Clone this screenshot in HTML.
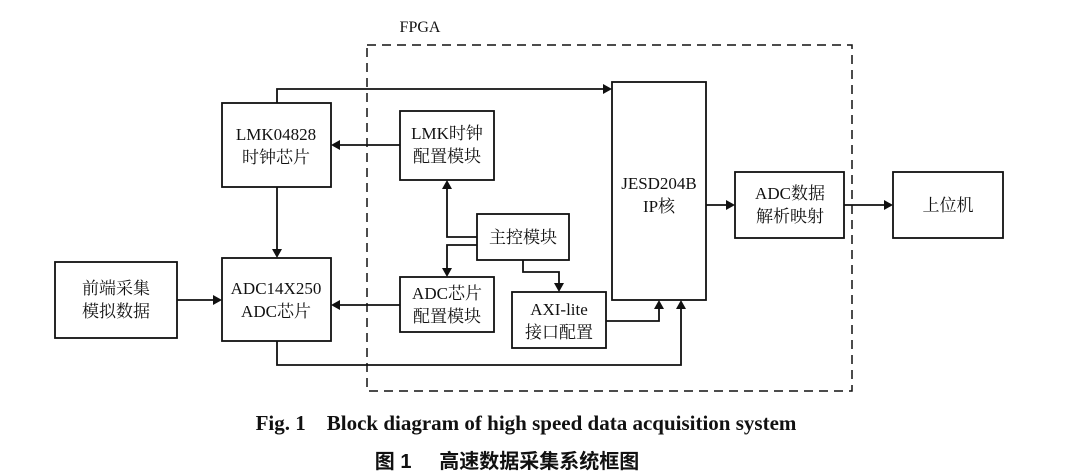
<!DOCTYPE html>
<html><head><meta charset="utf-8"><style>
html,body{margin:0;padding:0;background:#fff;}
svg{display:block;}
.t{font-family:"Liberation Serif","Noto Serif CJK SC",serif;font-size:17px;fill:#111;}
</style></head><body>
<svg width="1072" height="473" viewBox="0 0 1072 473" xmlns="http://www.w3.org/2000/svg">
<g fill="none" stroke="#111" stroke-width="1.8">
<rect x="367" y="45" width="485" height="346" stroke-dasharray="9,6" stroke-width="1.5"/>
<rect x="55" y="262" width="122" height="76"/>
<rect x="222" y="103" width="109" height="84"/>
<rect x="222" y="258" width="109" height="83"/>
<rect x="400" y="111" width="94" height="69"/>
<rect x="400" y="277" width="94" height="55"/>
<rect x="477" y="214" width="92" height="46"/>
<rect x="512" y="292" width="94" height="56"/>
<rect x="612" y="82" width="94" height="218"/>
<rect x="735" y="172" width="109" height="66"/>
<rect x="893" y="172" width="110" height="66"/>
<polyline points="277,103 277,89 604,89"/>
<line x1="400" y1="145" x2="339" y2="145"/>
<line x1="277" y1="187" x2="277" y2="250"/>
<line x1="177" y1="300" x2="214" y2="300"/>
<line x1="400" y1="305" x2="339" y2="305"/>
<polyline points="477,237 447,237 447,188"/>
<polyline points="477,245 447,245 447,269"/>
<polyline points="523,260 523,272 559,272 559,284"/>
<polyline points="606,321 659,321 659,308"/>
<polyline points="277,341 277,365 681,365 681,308"/>
<line x1="706" y1="205" x2="727" y2="205"/>
<line x1="844" y1="205" x2="885" y2="205"/>
</g>
<g fill="#111">
<polygon points="612,89 603,84 603,94"/>
<polygon points="331,145 340,140 340,150"/>
<polygon points="277,258 272,249 282,249"/>
<polygon points="222,300 213,295 213,305"/>
<polygon points="331,305 340,300 340,310"/>
<polygon points="447,180 442,189 452,189"/>
<polygon points="447,277 442,268 452,268"/>
<polygon points="559,292 554,283 564,283"/>
<polygon points="659,300 654,309 664,309"/>
<polygon points="681,300 676,309 686,309"/>
<polygon points="735,205 726,200 726,210"/>
<polygon points="893,205 884,200 884,210"/>
</g>
<g class="t" text-anchor="middle">
<text x="420" y="32" font-size="16">FPGA</text>
<text x="116" y="294">前端采集</text><text x="116" y="317">模拟数据</text>
<text x="276" y="140">LMK04828</text><text x="276" y="163">时钟芯片</text>
<text x="276" y="294">ADC14X250</text><text x="276" y="317">ADC芯片</text>
<text x="447" y="139">LMK时钟</text><text x="447" y="162">配置模块</text>
<text x="447" y="299">ADC芯片</text><text x="447" y="322">配置模块</text>
<text x="523" y="243">主控模块</text>
<text x="559" y="315">AXI-lite</text><text x="559" y="338">接口配置</text>
<text x="659" y="189">JESD204B</text><text x="659" y="212">IP核</text>
<text x="790" y="199">ADC数据</text><text x="790" y="222">解析映射</text>
<text x="948" y="211">上位机</text>
<text x="526" y="430" font-weight="bold" font-size="21" font-family="Liberation Serif,serif" xml:space="preserve">Fig. 1    Block diagram of high speed data acquisition system</text>
<text x="507" y="468" font-weight="bold" font-size="20" font-family="Liberation Sans,Noto Sans CJK SC,sans-serif" xml:space="preserve">图 1     高速数据采集系统框图</text>
</g>
</svg>
</body></html>
